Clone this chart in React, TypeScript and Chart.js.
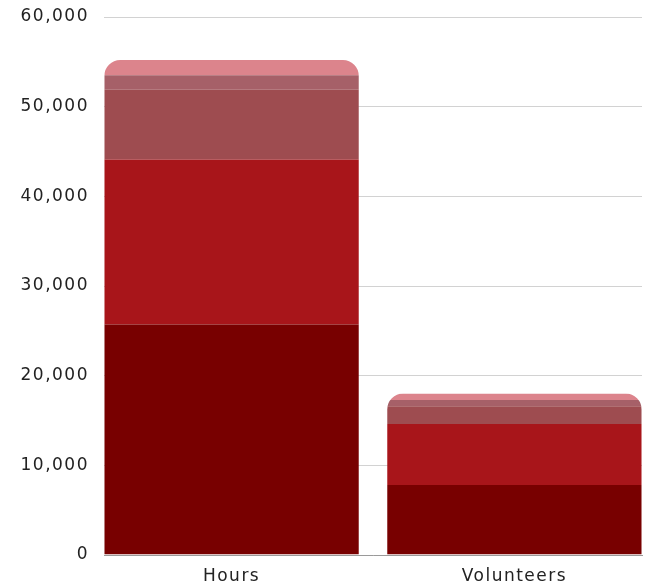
import React, { useEffect, useRef } from "react";
import { Chart, registerables } from "chart.js";

Chart.register(...registerables);

const categories = ["Hours", "Volunteers"];
const segmentA = [25700, 7800];
const segmentB = [18400, 6800];
const segmentC = [7800, 2000];
const segmentD = [1600, 700];
const segmentE = [1700, 700];
const yTicks = [0, 10000, 20000, 30000, 40000, 50000, 60000];

const colors = ["#780000", "#a8151a", "#9e4c50", "#a66068", "#dc848c"];

const letterSpacingPlugin = {
  id: "letterSpacing",
  beforeLayout(chart: any) {
    (chart.ctx as any).letterSpacing = "1.5px";
  },
  beforeDraw(chart: any) {
    (chart.ctx as any).letterSpacing = "1.5px";
  },
};

const stackClipPlugin = {
  id: "stackClip",
  beforeDatasetsDraw(chart: any) {
    const ctx = chart.ctx;
    const metas = chart.getSortedVisibleDatasetMetas();
    if (!metas.length) return;
    ctx.save();
    ctx.beginPath();
    const n = metas[0].data.length;
    for (let i = 0; i < n; i++) {
      let top = Infinity;
      let bottom = -Infinity;
      let left = 0;
      let width = 0;
      metas.forEach((m: any) => {
        const el = m.data[i];
        if (!el) return;
        top = Math.min(top, el.y, el.base);
        bottom = Math.max(bottom, el.y, el.base);
        left = el.x - el.width / 2;
        width = el.width;
      });
      const r = 16;
      (ctx as any).roundRect(left, top, width, bottom - top, [r, r, 0, 0]);
    }
    ctx.clip();
  },
  afterDatasetsDraw(chart: any) {
    chart.ctx.restore();
  },
};

export default function App() {
  const ref = useRef<HTMLCanvasElement | null>(null);
  useEffect(() => {
    if (!ref.current) return;
    const series = [segmentA, segmentB, segmentC, segmentD, segmentE];
    const chart = new Chart(ref.current, {
      type: "bar",
      data: {
        datasets: series.map((s, k) => ({
          label: "S" + (k + 1),
          data: s.map((v, i) => ({ x: i, y: v })),
          backgroundColor: colors[k],
          borderWidth: 0,
          categoryPercentage: 1,
          barPercentage: 0.9,
        })),
      },
      options: {
        animation: false,
        responsive: true,
        maintainAspectRatio: false,
        layout: { padding: { top: 0, right: 4, left: 0, bottom: 0 } },
        plugins: { legend: { display: false }, tooltip: { enabled: false } },
        scales: {
          x: {
            type: "linear",
            stacked: true,
            offset: false,
            min: -0.451,
            max: 1.451,
            grid: { display: false, drawTicks: false },
            border: { display: true, color: "#9a9a9a", width: 1 },
            afterBuildTicks: (scale: any) => {
              scale.ticks = categories.map((_, i) => ({ value: i }));
            },
            afterFit: (scale: any) => {
              scale.height = 32;
            },
            ticks: {
              padding: 11,
              color: "#222222",
              font: { family: "DejaVu Sans", size: 17 },
              maxRotation: 0,
              autoSkip: false,
              callback: (v: any) => categories[v] ?? "",
            },
          },
          y: {
            stacked: true,
            min: 0,
            max: 60000,
            grid: { color: "#d2d2d2", drawTicks: false },
            border: { display: false },
            afterBuildTicks: (scale: any) => {
              scale.ticks = yTicks.map((v) => ({ value: v }));
            },
            afterFit: (scale: any) => {
              scale.width = 104;
              scale.paddingTop = 17;
              scale.paddingBottom = 0;
            },
            ticks: {
              padding: 15,
              color: "#222222",
              font: { family: "DejaVu Sans", size: 17 },
              callback: (v: any) => Number(v).toLocaleString("en-US"),
            },
          },
        },
      },
      plugins: [letterSpacingPlugin, stackClipPlugin],
    });
    return () => chart.destroy();
  }, []);
  return (
    <div style={{ position: "fixed", left: 0, top: 0, width: 646, height: 587 }}>
      <canvas ref={ref} />
    </div>
  );
}
